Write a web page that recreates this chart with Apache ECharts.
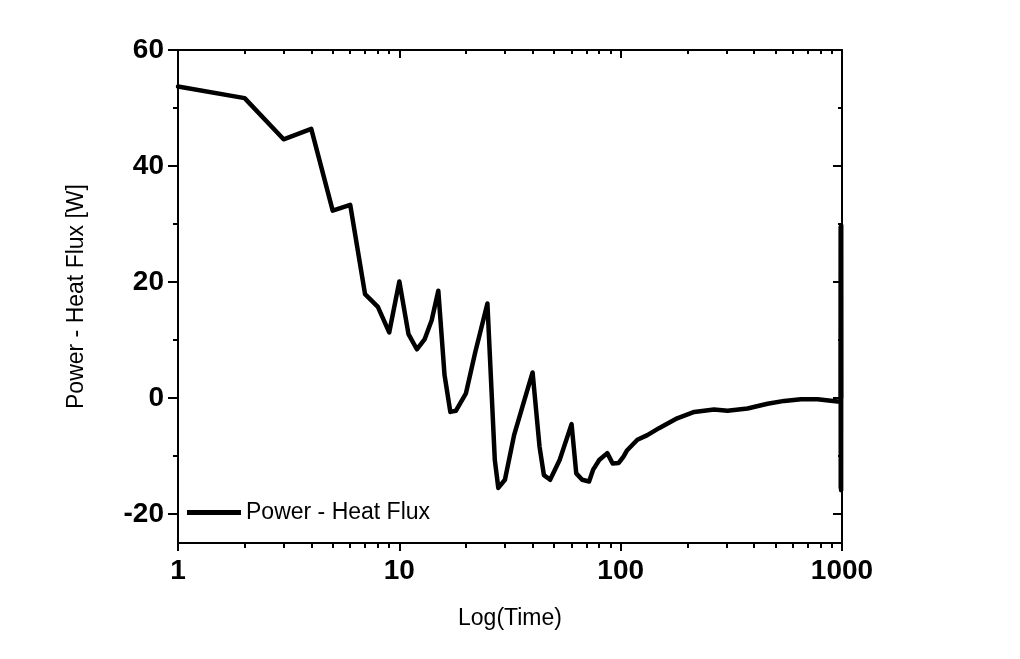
<!DOCTYPE html>
<html>
<head>
<meta charset="utf-8">
<script src="https://cdn.jsdelivr.net/npm/echarts@6/dist/echarts.min.js"></script>
<style>html,body{margin:0;padding:0;background:#fff}#c{width:1020px;height:659px}</style>
</head>
<body>
<div id="c"></div>
<script>
var seriesName = 'Power - Heat Flux';
var xName = 'Log(Time)';
var yName = 'Power - Heat Flux [W]';
var time = [1,2,3,4,5,6,7,8,9,10,11,12,13,14,15,16,17,18,20,22,25,27,28,30,33,36,40,43,45,48,53,60,63,67,72,75,80,87,92,98,103,107,119,132,149,180,215,264,304,374,461,548,652,776,955,985,986,987,988,989,990,991,992,993];
var power = [53.7,51.7,44.6,46.4,32.3,33.3,17.9,15.7,11.3,20.1,11.0,8.4,10.1,13.4,18.5,4.0,-2.4,-2.2,0.8,7.8,16.3,-10.7,-15.5,-14.1,-6.4,-1.5,4.4,-8.4,-13.3,-14.1,-10.7,-4.5,-13.0,-14.1,-14.4,-12.4,-10.7,-9.5,-11.3,-11.2,-10.1,-9.0,-7.2,-6.4,-5.2,-3.5,-2.4,-2.0,-2.2,-1.8,-1.0,-0.5,-0.2,-0.2,-0.6,-0.5,29.5,-15.5,25.0,-12.0,10.0,-15.9,29.8,0.0];
var yMajorTicks = [-20,0,20,40,60];
var yMinorTicks = [-10,10,30,50];
var xMinorTicks = [2,3,4,5,6,7,8,9,20,30,40,50,60,70,80,90,200,300,400,500,600,700,800,900];

var data = time.map(function(t,i){return [t, power[i]];});
var xMinorLog = xMinorTicks.map(function(v){return Math.log10(v);});
var FONT = 'Liberation Sans, Arial, sans-serif';
var lineStyle = {color:'#000', width:2};
var tickStyle = {color:'#000', width:2};

var chart = echarts.init(document.getElementById('c'), null, {renderer:'canvas'});
chart.setOption({
  animation:false,
  backgroundColor:'#fff',
  grid:{left:178, right:178, top:50, bottom:116, containLabel:false},
  legend:{
    show:true, left:187, top:501, padding:0,
    itemWidth:54, itemHeight:14, itemGap:5,
    data:[{name:seriesName, icon:'path://M0,0 L54,0 L54,5 L0,5 Z'}],
    textStyle:{fontFamily:FONT, fontSize:23, color:'#000'}
  },
  xAxis:[
    {type:'log', logBase:10, min:1, max:1000, position:'bottom',
     name:xName, nameLocation:'middle', nameGap:64,
     nameTextStyle:{fontFamily:FONT, fontSize:23, color:'#000'},
     axisLine:{show:true, onZero:false, lineStyle:lineStyle},
     axisTick:{show:true, inside:false, length:8, lineStyle:tickStyle},
     axisLabel:{show:true, margin:14, fontFamily:FONT, fontSize:28, fontWeight:'bold', color:'#000',
       formatter:function(v){return String(Math.round(v));}},
     splitLine:{show:false}, minorTick:{show:false}},
    {type:'value', min:0, max:3, position:'bottom',
     axisLine:{show:false, onZero:false},
     axisTick:{show:true, inside:false, length:5, lineStyle:tickStyle, customValues:xMinorLog},
     axisLabel:{show:false}, splitLine:{show:false}},
    {type:'log', logBase:10, min:1, max:1000, position:'top',
     axisLine:{show:true, onZero:false, lineStyle:lineStyle},
     axisTick:{show:true, inside:true, length:8, lineStyle:tickStyle},
     axisLabel:{show:false}, splitLine:{show:false}},
    {type:'value', min:0, max:3, position:'top',
     axisLine:{show:false, onZero:false},
     axisTick:{show:true, inside:true, length:4, lineStyle:tickStyle, customValues:xMinorLog},
     axisLabel:{show:false}, splitLine:{show:false}}
  ],
  yAxis:[
    {type:'value', min:-25, max:60, position:'left',
     name:yName, nameLocation:'middle', nameGap:90,
     nameTextStyle:{fontFamily:FONT, fontSize:23, color:'#000'},
     axisLine:{show:true, onZero:false, lineStyle:lineStyle},
     axisTick:{show:true, inside:false, length:10, lineStyle:tickStyle, customValues:yMajorTicks},
     axisLabel:{show:true, margin:14, fontFamily:FONT, fontSize:28, fontWeight:'bold', color:'#000', customValues:yMajorTicks},
     splitLine:{show:false}},
    {type:'value', min:-25, max:60, position:'left',
     axisLine:{show:false, onZero:false},
     axisTick:{show:true, inside:false, length:5, lineStyle:tickStyle, customValues:yMinorTicks},
     axisLabel:{show:false}, splitLine:{show:false}},
    {type:'value', min:-25, max:60, position:'right',
     axisLine:{show:true, onZero:false, lineStyle:lineStyle},
     axisTick:{show:true, inside:true, length:9, lineStyle:tickStyle, customValues:yMajorTicks},
     axisLabel:{show:false}, splitLine:{show:false}},
    {type:'value', min:-25, max:60, position:'right',
     axisLine:{show:false, onZero:false},
     axisTick:{show:true, inside:true, length:4, lineStyle:tickStyle, customValues:yMinorTicks},
     axisLabel:{show:false}, splitLine:{show:false}}
  ],
  series:[{
    name:seriesName, type:'line', xAxisIndex:0, yAxisIndex:0,
    data:data, symbol:'none', showSymbol:false, smooth:false,
    lineStyle:{color:'#000', width:4.5, join:'round', cap:'round'},
    itemStyle:{color:'#000'}
  }]
});
</script>
</body>
</html>
